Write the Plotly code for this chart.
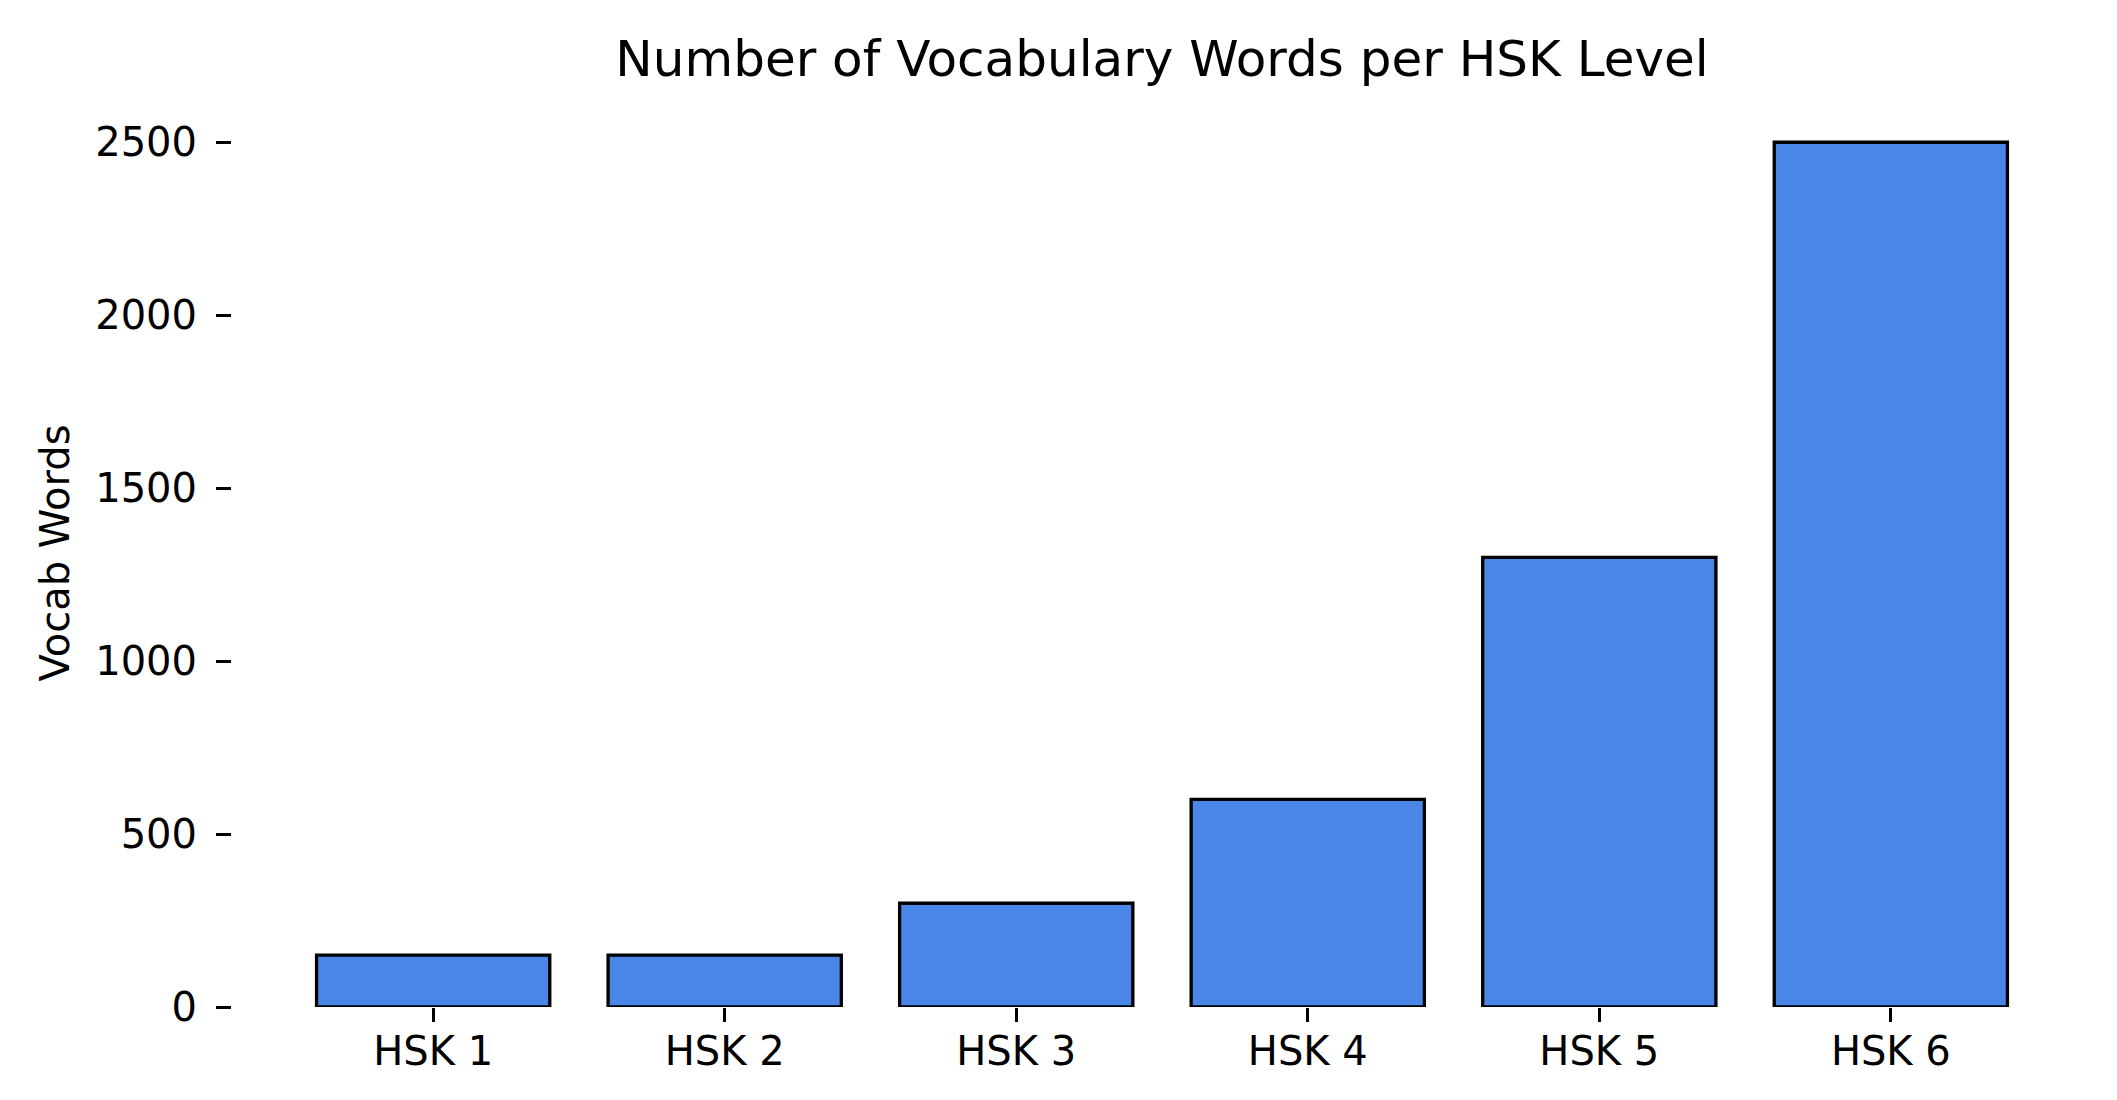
import plotly.graph_objects as go

levels = ['HSK 1', 'HSK 2', 'HSK 3', 'HSK 4', 'HSK 5', 'HSK 6']
vocab_words = [150, 150, 300, 600, 1300, 2500]
y_ticks = [0, 500, 1000, 1500, 2000, 2500]

FONT = 'DejaVu Sans'


def make_bar(x, y):
    return go.Bar(x=x,
                  y=y,
                  width=0.8,
                  marker=dict(color='#4a86e8',
                              line=dict(color='black', width=3.3)),
                  hoverinfo='x+y')


fig = go.Figure()
fig.add_trace(make_bar(levels, vocab_words))

fig.update_layout(
    width=2117,
    height=1100,
    margin=dict(l=224, r=33, t=91, b=101),
    paper_bgcolor='white',
    plot_bgcolor='white',
    showlegend=False,
    font=dict(family=FONT, size=40, color='black'),
    title=dict(text='Number of Vocabulary Words per HSK Level',
               font=dict(family=FONT, size=50, color='black'),
               x=0.5,
               xref='paper',
               xanchor='center',
               y=1 - 50 / 1100,
               yanchor='middle')
)

fig.update_xaxes(
    type='category',
    range=[-0.69, 5.69],
    showline=False,
    showgrid=False,
    zeroline=False,
    ticks='outside',
    ticklen=14,
    tickwidth=3,
    tickcolor='black',
    ticklabelstandoff=-5,
    tickfont=dict(family=FONT, size=40, color='black')
)

fig.update_yaxes(
    range=[0, 2625],
    tickvals=y_ticks,
    showline=False,
    showgrid=False,
    zeroline=False,
    ticks='outside',
    ticklen=15,
    tickwidth=3,
    tickcolor='black',
    ticklabelstandoff=11,
    tickfont=dict(family=FONT, size=40, color='black'),
    title=dict(text='Vocab Words',
               font=dict(family=FONT, size=40, color='black'),
               standoff=13)
)

fig.write_html("out.html")
